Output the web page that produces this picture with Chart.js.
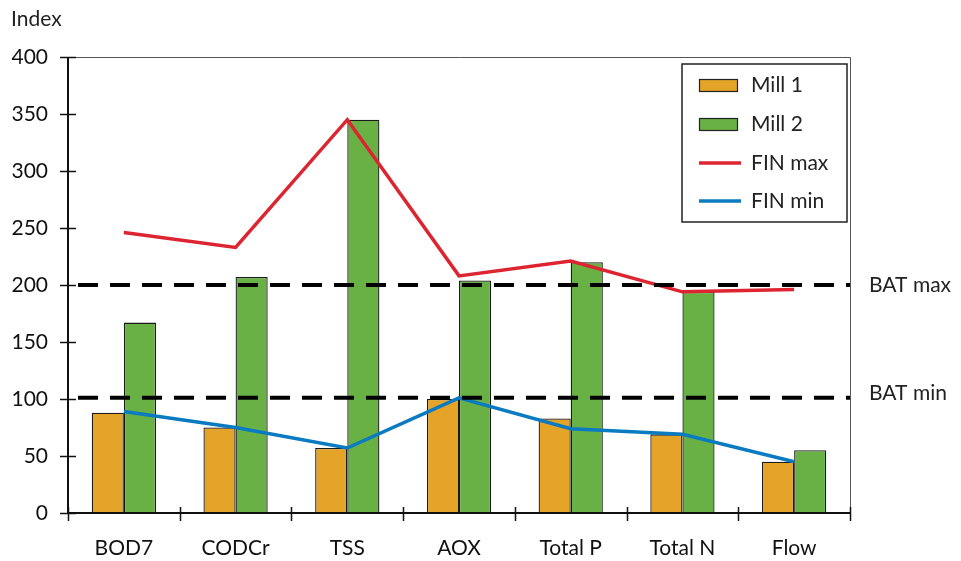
<!DOCTYPE html>
<html>
<head>
<meta charset="utf-8">
<script src="https://cdn.jsdelivr.net/npm/chart.js@4.4.0/dist/chart.umd.min.js"></script>
<style>
html,body{margin:0;padding:0;background:#fff;}
#wrap{position:relative;width:961px;height:561px;}
</style>
</head>
<body>
<div id="wrap"><canvas id="c" width="961" height="561"></canvas></div>
<script>
const categories = ["BOD7", "CODCr", "TSS", "AOX", "Total P", "Total N", "Flow"];
const mill1 = [88, 75, 57, 100, 83, 69, 45];
const mill2 = [167, 207, 345, 204, 220, 194, 55];
const finMax = [246, 233, 345, 208, 221, 194, 196];
const finMin = [89, 75, 57, 101, 74, 69, 45];
const batMax = 200;
const batMin = 101;
const yTicks = [0, 50, 100, 150, 200, 250, 300, 350, 400];

const FONT = "Lato, 'Open Sans', sans-serif";
const COL_M1 = "#e3a428";
const COL_M2 = "#69b145";
const COL_MAX = "#dc2530";
const COL_MIN = "#0a7bc1";

const decor = {
  id: "decor",
  afterDatasetsDraw(chart) {
    const ctx = chart.ctx;
    const a = chart.chartArea;
    const x = chart.scales.x, y = chart.scales.y;
    ctx.save();
    // top & right frame
    ctx.strokeStyle = "#555";
    ctx.lineWidth = 1;
    ctx.beginPath();
    ctx.moveTo(a.left, a.top + 0.5); ctx.lineTo(a.right + 0.5, a.top + 0.5);
    ctx.lineTo(a.right + 0.5, a.bottom);
    ctx.stroke();
    // BAT dashed lines
    ctx.strokeStyle = "#000";
    ctx.lineWidth = 4;
    ctx.setLineDash([20, 12]);
    [batMax, batMin].forEach(v => {
      const py = y.getPixelForValue(v);
      ctx.beginPath(); ctx.moveTo(a.left + 10, py); ctx.lineTo(a.right, py); ctx.stroke();
    });
    ctx.setLineDash([]);
    // BAT labels
    ctx.fillStyle = "#222";
    ctx.font = "21px " + FONT;
    ctx.textBaseline = "middle";
    ctx.textAlign = "left";
    ctx.fillText("BAT max", a.right + 19, y.getPixelForValue(batMax));
    ctx.fillText("BAT min", a.right + 19, y.getPixelForValue(batMin) - 5);
    // axes
    ctx.strokeStyle = "#111";
    ctx.lineWidth = 2;
    ctx.beginPath();
    ctx.moveTo(a.left, a.top); ctx.lineTo(a.left, a.bottom);
    ctx.lineTo(a.right, a.bottom);
    ctx.stroke();
    // y ticks
    ctx.lineWidth = 1.5;
    yTicks.forEach(v => {
      const py = Math.round(y.getPixelForValue(v)) + 0.5;
      ctx.beginPath(); ctx.moveTo(a.left - 8, py); ctx.lineTo(a.left + 8, py); ctx.stroke();
    });
    // x ticks at category boundaries
    const n = categories.length;
    for (let i = 0; i <= n; i++) {
      const px = Math.round(a.left + (a.right - a.left) * i / n) + 0.5;
      ctx.beginPath(); ctx.moveTo(px, a.bottom - 6); ctx.lineTo(px, a.bottom + 8); ctx.stroke();
    }
    // legend
    const lx = 682, ly = 64, lw = 165, lh = 158;
    ctx.fillStyle = "#fff";
    ctx.fillRect(lx, ly, lw, lh);
    ctx.strokeStyle = "#222";
    ctx.lineWidth = 1.5;
    ctx.strokeRect(lx, ly, lw, lh);
    const items = chart.data.datasets;
    const rowsY = [85, 124, 163, 201];
    items.forEach((ds, i) => {
      const cy = rowsY[i];
      if (ds.type === "line") {
        ctx.strokeStyle = ds.borderColor;
        ctx.lineWidth = 3.5;
        ctx.beginPath(); ctx.moveTo(699, cy); ctx.lineTo(741, cy); ctx.stroke();
      } else {
        ctx.fillStyle = ds.backgroundColor;
        ctx.fillRect(699, cy - 6, 38, 12);
        ctx.strokeStyle = "#222";
        ctx.lineWidth = 1.2;
        ctx.strokeRect(699.5, cy - 5.5, 38, 12);
      }
      ctx.fillStyle = "#222";
      ctx.font = "21px " + FONT;
      ctx.textAlign = "left";
      ctx.textBaseline = "middle";
      ctx.fillText(ds.label, 751, cy);
    });
    // Index title
    ctx.fillStyle = "#222";
    ctx.font = "21px " + FONT;
    ctx.textBaseline = "middle";
    ctx.fillText("Index", 11, 19);
    ctx.restore();
  }
};

new Chart(document.getElementById("c"), {
  data: {
    labels: categories,
    datasets: [
      { type: "bar", label: "Mill 1", data: mill1, backgroundColor: COL_M1, borderColor: "#1a1a1a", borderWidth: 1.3, order: 2 },
      { type: "bar", label: "Mill 2", data: mill2, backgroundColor: COL_M2, borderColor: "#1a1a1a", borderWidth: 1.3, order: 2 },
      { type: "line", label: "FIN max", data: finMax, borderColor: COL_MAX, borderWidth: 3.5, pointRadius: 0, tension: 0, order: 1 },
      { type: "line", label: "FIN min", data: finMin, borderColor: COL_MIN, borderWidth: 3.5, pointRadius: 0, tension: 0, order: 1 }
    ]
  },
  options: {
    responsive: false,
    animation: false,
    layout: { padding: { left: 0, right: 111, top: 57, bottom: 0 } },
    plugins: { legend: { display: false }, tooltip: { enabled: false } },
    datasets: { bar: { categoryPercentage: 0.575, barPercentage: 1 } },
    scales: {
      x: {
        offset: true,
        grid: { display: false, drawTicks: false },
        border: { display: false },
        ticks: { color: "#111", font: { family: FONT, size: 21 }, padding: 23, maxRotation: 0, autoSkip: false },
        afterFit(s) { s.height = 48; }
      },
      y: {
        min: 0, max: 400,
        afterBuildTicks(s) { s.ticks = yTicks.map(v => ({ value: v })); },
        grid: { display: false, drawTicks: false },
        border: { display: false },
        ticks: { color: "#111", font: { family: FONT, size: 21 }, padding: 20 },
        afterFit(s) { s.width = 68; }
      }
    }
  },
  plugins: [decor]
});
</script>
</body>
</html>
